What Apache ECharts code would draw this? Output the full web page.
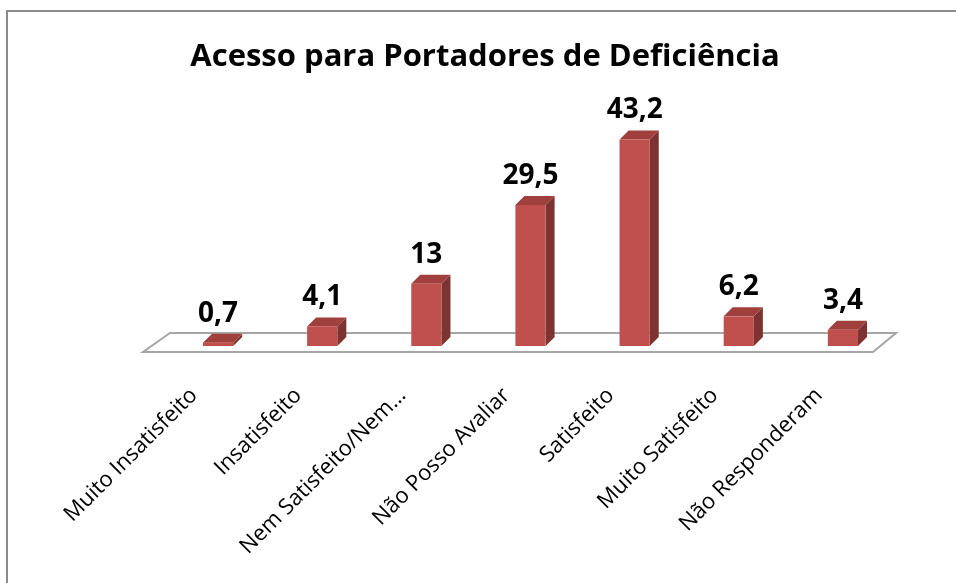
<!DOCTYPE html>
<html>
<head>
<meta charset="utf-8">
<script src="https://cdn.jsdelivr.net/npm/echarts@6/dist/echarts.min.js"></script>
<style>
html,body{margin:0;padding:0;background:#fff;}
#chart{width:956px;height:583px;}
</style>
</head>
<body>
<div id="chart"></div>
<script>
const titleText = 'Acesso para Portadores de Deficiência';
const categories = ['Muito Insatisfeito', 'Insatisfeito', 'Nem Satisfeito/Nem…', 'Não Posso Avaliar', 'Satisfeito', 'Muito Satisfeito', 'Não Responderam'];
const values = [0.7, 4.1, 13, 29.5, 43.2, 6.2, 3.4];
const valueLabels = ['0,7', '4,1', '13', '29,5', '43,2', '6,2', '3,4'];

const FONT = 'Open Sans';
const chart = echarts.init(document.getElementById('chart'), null, {renderer: 'canvas'});

function renderFloor(params, api) {
  const cs = params.coordSys;
  const zeroY = api.coord([0, 0])[1];
  const L = cs.x, R = cs.x + cs.width;
  return {
    type: 'polygon',
    shape: {points: [[L - 23, zeroY + 6], [R - 22, zeroY + 6], [R + 1, zeroY - 13], [L + 4, zeroY - 13]]},
    style: {fill: '#ffffff', stroke: '#a6a6a6', lineWidth: 2}
  };
}

function renderBar(params, api) {
  const idx = api.value(0);
  const val = api.value(1);
  const base = api.coord([idx, 0]);
  const top = api.coord([idx, val]);
  const w = api.size([1, 0])[0] * 0.29;
  const x0 = base[0] - w / 2, x1 = base[0] + w / 2;
  const yb = base[1], yt = top[1];
  const dx = 9, dy = 9;
  return {
    type: 'group',
    children: [
      {type: 'polygon', shape: {points: [[x1, yb], [x1 + dx, yb - dy], [x1 + dx, yt - dy], [x1, yt]]},
       style: {fill: '#7d3331'}},
      {type: 'polygon', shape: {points: [[x0, yt], [x0 + dx, yt - dy], [x1 + dx, yt - dy], [x1, yt]]},
       style: {fill: '#9f403d'}},
      {type: 'rect', shape: {x: x0, y: yt, width: w, height: yb - yt},
       style: {fill: '#c0504d'}},
      {type: 'text', x: base[0], y: yt - dy - 6,
       style: {text: valueLabels[params.dataIndex], fill: '#000', font: 'bold 28px "' + FONT + '"',
               textAlign: 'center', textVerticalAlign: 'bottom'}}
    ]
  };
}

chart.setOption({
  animation: false,
  backgroundColor: '#ffffff',
  title: {
    text: titleText, left: 480, top: 37, textAlign: 'center',
    textStyle: {fontFamily: FONT, fontWeight: 'bold', fontSize: 31, color: '#000'}
  },
  graphic: [{
    type: 'polyline', shape: {points: [[7, 590], [7, 11], [960, 11]]},
    style: {stroke: '#8c8c8c', lineWidth: 2, fill: null}
  }],
  grid: {left: 166, right: 61, top: 107, bottom: 237},
  xAxis: {
    type: 'category', data: categories, boundaryGap: true,
    axisLine: {show: false}, axisTick: {show: false},
    axisLabel: {rotate: 45, interval: 0, margin: 70, lineHeight: 68, verticalAlign: 'bottom',
                fontFamily: FONT, fontSize: 22, color: '#000'}
  },
  yAxis: {
    type: 'value', min: 0, max: 50, interval: 10, show: false,
    splitLine: {show: false}
  },
  series: [
    {type: 'custom', renderItem: renderFloor, data: [[0, 0]], z: 1, silent: true},
    {type: 'custom', renderItem: renderBar, data: values.map((v, i) => [i, v]), z: 2,
     encode: {x: 0, y: 1}}
  ]
});
</script>
</body>
</html>
